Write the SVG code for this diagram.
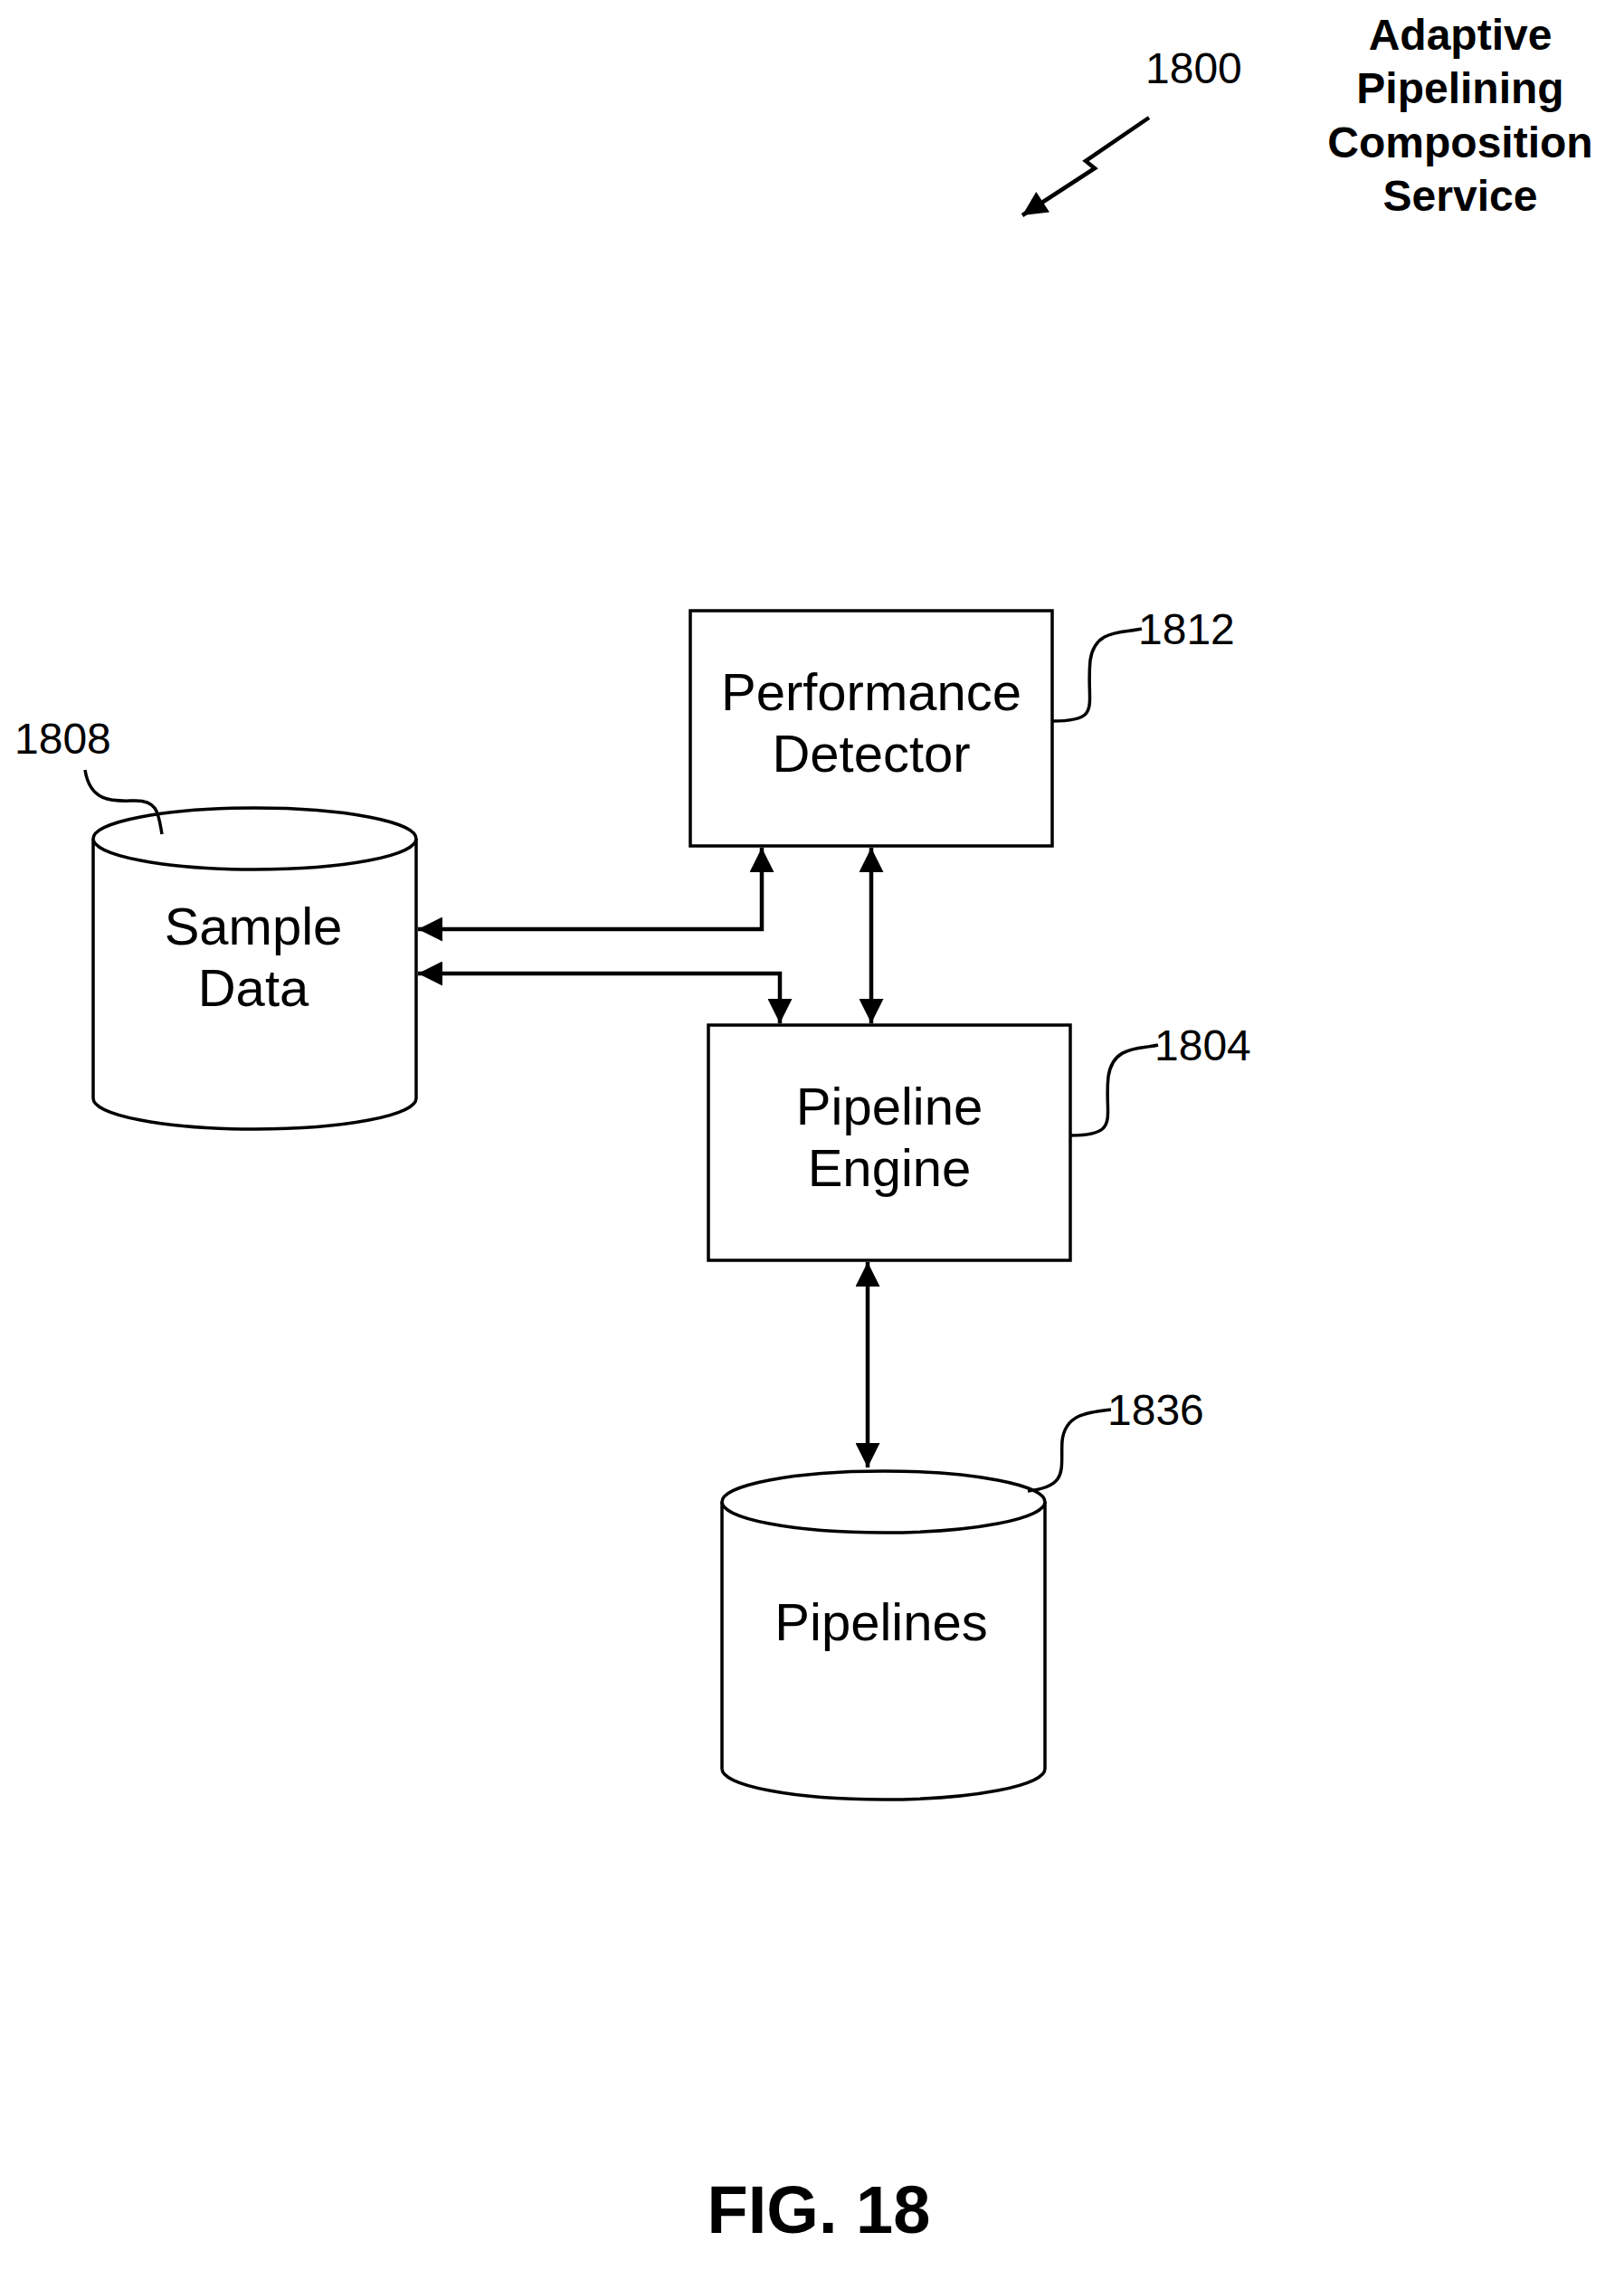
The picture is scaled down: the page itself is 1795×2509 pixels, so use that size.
<svg xmlns="http://www.w3.org/2000/svg" width="1795" height="2509" viewBox="0 0 1795 2509">
<style>
.s{fill:none;stroke:#000;stroke-width:3.5}
.c{fill:none;stroke:#000;stroke-width:4.5}
.n{fill:#fff;stroke:#000;stroke-width:3.5}
.t{font-family:"Liberation Sans",Arial,sans-serif;font-size:58px;text-anchor:middle}
.r{font-family:"Liberation Sans",Arial,sans-serif;font-size:48px}
.b{font-family:"Liberation Sans",Arial,sans-serif;font-weight:bold;text-anchor:middle}
</style>
<defs><marker id="a" viewBox="0 0 10 10" refX="10" refY="5" markerWidth="7" markerHeight="6" orient="auto-start-reverse" markerUnits="strokeWidth"><path d="M0,0L10,5L0,10z"/></marker></defs>
<rect width="1795" height="2509" fill="#fff"/>
<g id="title">
<text class="b" font-size="48" x="1614" y="55">Adaptive</text>
<text class="b" font-size="48" x="1614" y="114">Pipelining</text>
<text class="b" font-size="48" x="1614" y="174">Composition</text>
<text class="b" font-size="48" x="1614" y="233">Service</text>
<text class="r" x="1266" y="92">1800</text>
<path class="c" d="M1270,130 L1200,178 L1210,186 L1130,238" marker-end="url(#a)"/>
</g>
<g id="pd"><rect class="n" x="763" y="675" width="400" height="260"/>
<text class="t" x="963" y="785">Performance</text><text class="t" x="963" y="853">Detector</text>
<path class="s" d="M1163,797 C1220,797 1200,780 1205,730 C1210,695 1240,700 1262,695"/>
<text class="r" x="1258" y="712">1812</text></g>
<g id="pe"><rect class="n" x="783" y="1133" width="400" height="260"/>
<text class="t" x="983" y="1243">Pipeline</text><text class="t" x="983" y="1311">Engine</text>
<path class="s" d="M1183,1255 C1240,1255 1220,1235 1225,1190 C1230,1155 1260,1160 1280,1155"/>
<text class="r" x="1276" y="1172">1804</text></g>
<g id="sd"><path class="n" d="M103,927 L103,1214 A178.5,34 0 0 0 460,1214 L460,927"/>
<ellipse class="n" cx="281.5" cy="927" rx="178.5" ry="34"/>
<text class="t" x="280" y="1044">Sample</text><text class="t" x="280" y="1112">Data</text>
<path class="s" d="M94,851 C100,890 130,885 150,885 C175,885 175,900 179,922"/>
<text class="r" x="16" y="833">1808</text></g>
<g id="pl"><path class="n" d="M798,1660 L798,1955 A178.5,34 0 0 0 1155,1955 L1155,1660"/>
<ellipse class="n" cx="976.5" cy="1660" rx="178.5" ry="34"/>
<text class="t" x="974" y="1813">Pipelines</text>
<path class="s" d="M1136,1648 C1182,1643 1172,1623 1174,1593 C1177,1563 1202,1561 1228,1558"/>
<text class="r" x="1224" y="1575">1836</text></g>
<g id="connectors">
<path class="c" d="M462,1027 L842,1027 L842,937" marker-start="url(#a)" marker-end="url(#a)"/>
<path class="c" d="M462,1076 L862,1076 L862,1131" marker-start="url(#a)" marker-end="url(#a)"/>
<path class="c" d="M963,937 L963,1131" marker-start="url(#a)" marker-end="url(#a)"/>
<path class="c" d="M959,1395 L959,1622" marker-start="url(#a)" marker-end="url(#a)"/>
</g>
<text class="b" font-size="74" x="905" y="2468">FIG. 18</text>
</svg>
